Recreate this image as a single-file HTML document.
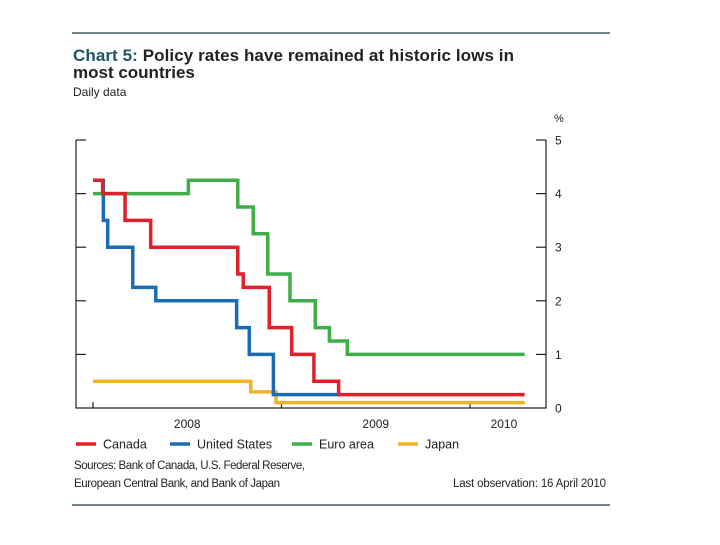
<!DOCTYPE html>
<html><head><meta charset="utf-8"><style>
body{margin:0;background:#fff;}
svg text{font-family:"Liberation Sans",Arial,sans-serif;}
</style></head><body>
<svg width="720" height="540" viewBox="0 0 720 540" xmlns="http://www.w3.org/2000/svg">
<line x1="72" y1="33" x2="610" y2="33" stroke="#1e3a4a" stroke-width="1.2"/>
<text x="73" y="61" font-size="17" font-weight="bold" fill="#222" textLength="441"><tspan fill="#1f5566">Chart 5:</tspan> Policy rates have remained at historic lows in</text>
<text x="73" y="78" font-size="17" font-weight="bold" fill="#222">most countries</text>
<text x="73" y="96" font-size="12" fill="#222">Daily data</text>
<text x="554" y="122" font-size="11" fill="#222">%</text>
<g id="axes"></g>
<g id="series"></g>
<g id="legend"></g>
<text x="74" y="469" font-size="11.5" fill="#222" textLength="231">Sources: Bank of Canada, U.S. Federal Reserve,</text>
<text x="74" y="487" font-size="11.5" fill="#222" textLength="206">European Central Bank, and Bank of Japan</text>
<text x="606" y="487" font-size="11.5" fill="#222" text-anchor="end" textLength="153">Last observation: 16 April 2010</text>
<line x1="72" y1="505" x2="610" y2="505" stroke="#1e3a4a" stroke-width="1.2"/>
</svg>
<script>
const yTicks=[0,1,2,3,4,5];
const xTickYears=[2008,2009,2010];
const xLabels=["2008","2009","2010"];
const xLabelPos=[2008.5,2009.5,2010.18];
const seriesNames=["Canada","United States","Euro area","Japan"];
const canadaT=[2008.0,2008.051,2008.170,2008.306,2008.768,2008.797,2008.935,2009.054,2009.172,2009.303,2010.29];
const canadaV=[4.25,4.0,3.5,3.0,2.5,2.25,1.5,1.0,0.5,0.25,0.25];
const usT=[2008.0,2008.055,2008.078,2008.211,2008.333,2008.762,2008.829,2008.957,2009.303];
const usV=[4.25,3.5,3.0,2.25,2.0,1.5,1.0,0.25,0.25];
const euroT=[2008.0,2008.506,2008.768,2008.850,2008.927,2009.045,2009.179,2009.254,2009.349,2010.29];
const euroV=[4.0,4.25,3.75,3.25,2.5,2.0,1.5,1.25,1.0,1.0];
const japanT=[2008.0,2008.837,2008.971,2010.29];
const japanV=[0.5,0.3,0.1,0.1];

const NS="http://www.w3.org/2000/svg";
const L=76,R=546,T=140,B=408;
const xS=t=>93+(t-2008)*188.5;
const yS=v=>B-(v/5)*(B-T);
function mk(tag,attrs,parent){const e=document.createElementNS(NS,tag);for(const k in attrs)e.setAttribute(k,attrs[k]);parent.appendChild(e);return e;}
const ax=document.getElementById('axes');
let e;
e=mk('path',{d:`M${L},${T} V${B} H${R} V${T}`,fill:'none',stroke:'#222','stroke-width':1.2},ax);


yTicks.forEach(v=>{
 const y=yS(v);
 if(v>0){
  e=mk('line',{x1:L,x2:L+10,y1:y,y2:y,stroke:'#222','stroke-width':1.2},ax);
  
  
  e=mk('line',{x1:R-10,x2:R,y1:y,y2:y,stroke:'#222','stroke-width':1.2},ax);
  
  
 }
 e=mk('text',{x:555,y:y+4.5,'font-size':12,fill:'#222'},ax);
 e.textContent=v;
 
 
});
xTickYears.forEach(t=>{
 e=mk('line',{x1:xS(t),x2:xS(t),y1:B,y2:B-6,stroke:'#222','stroke-width':1.2},ax);
 
 
});
xLabels.forEach((s,i)=>{
 e=mk('text',{x:xS(xLabelPos[i]),y:428,'font-size':12,fill:'#222','text-anchor':'middle'},ax);
 e.textContent=s;
 
 
});
const colors=["#e0202a","#1b6db3","#3fae49","#f0b22a"];
const data=[[canadaT,canadaV],[usT,usV],[euroT,euroV],[japanT,japanV]];
const order=[3,1,2,0];
const sg=document.getElementById('series');
order.forEach(i=>{
 const [ts,vs]=data[i];
 let d=`M${xS(ts[0])},${yS(vs[0])}`;
 for(let k=1;k<ts.length;k++){d+=` H${xS(ts[k])} V${yS(vs[k])}`;}
 e=mk('path',{d:d,fill:'none',stroke:colors[i],'stroke-width':3.5},sg);
 
 
});
const lg=document.getElementById('legend');
const lx=[76,170,292,398];
seriesNames.forEach((n,i)=>{
 e=mk('line',{x1:lx[i],x2:lx[i]+20,y1:444,y2:444,stroke:colors[i],'stroke-width':3.5},lg);
 
 
 e=mk('text',{x:lx[i]+27,y:448.5,'font-size':12.5,fill:'#222'},lg);
 e.textContent=n;
 
 
});
</script>
</body></html>
